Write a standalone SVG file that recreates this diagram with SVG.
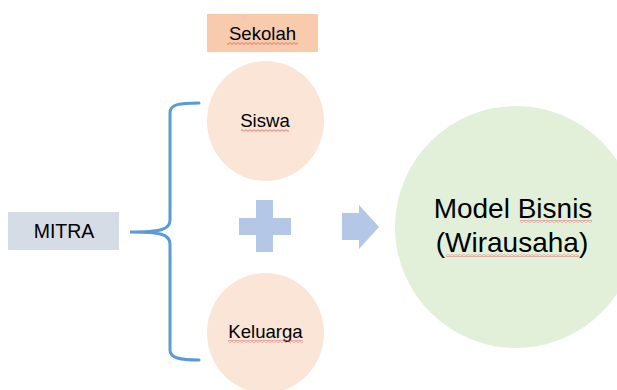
<svg xmlns="http://www.w3.org/2000/svg" width="617" height="390" viewBox="0 0 617 390">
  <style>
    text { font-family: "Liberation Sans", Arial, sans-serif; fill: #000; text-anchor: middle; }
    .sm { font-size: 18.6px; }
    .lg { font-size: 28px; }
    .peach { fill: #fbe5d6; }
    .bracket { fill: none; stroke: #5b9bd5; stroke-width: 3; stroke-linecap: round; }
    .sign { fill: #b4c7e7; }
  </style>
  <defs>
    <pattern id="squiggle" width="4" height="3" patternUnits="userSpaceOnUse">
      <path d="M0,2.4 L2,0.6 L4,2.4" fill="none" stroke="#e0585a" stroke-width="0.8"/>
    </pattern>
  </defs>

  <rect width="617" height="390" fill="#fff"/>

  <g id="sekolah">
    <rect x="207" y="14" width="111" height="38" fill="#f8cbad"/>
    <text class="sm" x="262.5" y="40">Sekolah</text>
    <rect x="227" y="42" width="71" height="3" fill="url(#squiggle)"/>
  </g>

  <g id="siswa">
    <ellipse class="peach" cx="265.5" cy="121" rx="58.5" ry="60"/>
    <text class="sm" x="265" y="127">Siswa</text>
    <rect x="241" y="129" width="48" height="3" fill="url(#squiggle)"/>
  </g>

  <g id="keluarga">
    <ellipse class="peach" cx="265.5" cy="333" rx="58.5" ry="60"/>
    <text class="sm" x="265.5" y="338">Keluarga</text>
    <rect x="228" y="340" width="75" height="3" fill="url(#squiggle)"/>
  </g>

  <g id="mitra">
    <rect x="8" y="212" width="111" height="38" fill="#d6dce5"/>
    <text x="64" y="238" style="font-size:19.5px">MITRA</text>
  </g>

  <g id="plus">
    <path class="sign" d="M256,200 H273 V218 H291 V235 H273 V252 H256 V235 H239 V218 H256 Z"/>
  </g>

  <g id="model-bisnis">
    <circle cx="516" cy="227" r="121" fill="#e2f0d9"/>
    <text class="lg" x="513" y="218">Model Bisnis</text>
    <text class="lg" x="512" y="252">(Wirausaha)</text>
    <rect x="520" y="220" width="72" height="3" fill="url(#squiggle)"/>
    <rect x="446" y="254" width="133" height="3" fill="url(#squiggle)"/>
  </g>

  <g id="connectors">
    <path class="bracket" d="M199,103 C180,103 170,104 170,113 L170,220 C170,230 160,232 130,232 C160,232 170,234 170,244 L170,350 C170,358 180,360 199,360"/>
    <path class="sign" d="M342,213 H359 V205 L379,227 L359,249 V240 H342 Z"/>
  </g>
</svg>
